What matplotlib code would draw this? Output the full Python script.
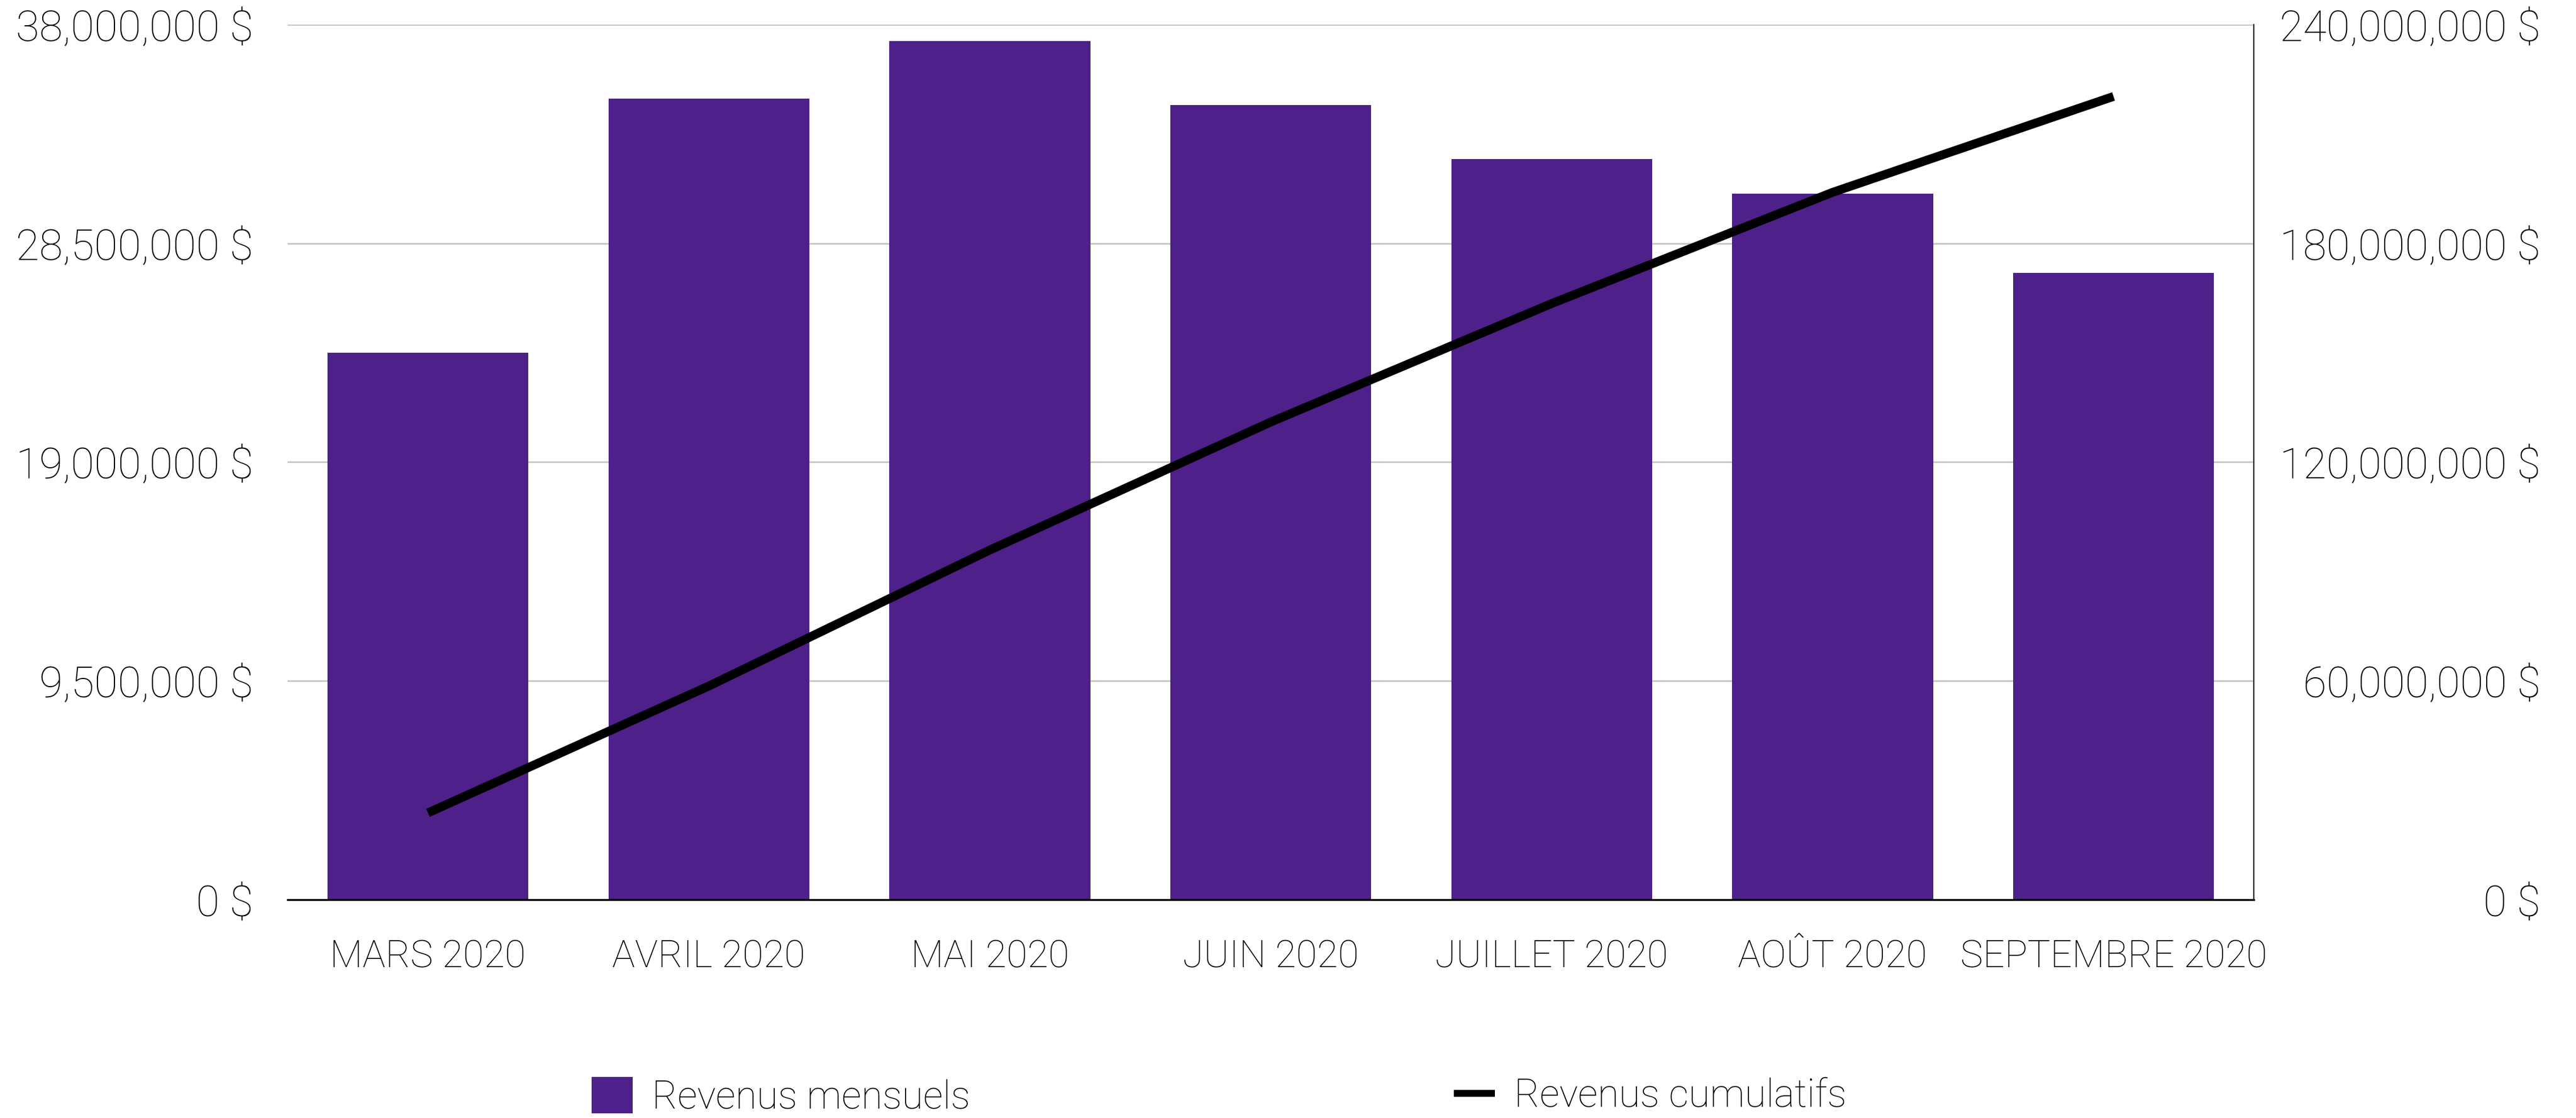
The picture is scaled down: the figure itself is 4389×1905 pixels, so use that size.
import matplotlib
matplotlib.use("Agg")
import matplotlib.pyplot as plt
from matplotlib.ticker import FuncFormatter
from matplotlib.lines import Line2D
from matplotlib.patches import Patch
import numpy as np

plt.rcParams['font.family'] = ['Roboto', 'DejaVu Sans']
plt.rcParams['font.weight'] = 'light'

categories = ["MARS 2020", "AVRIL 2020", "MAI 2020", "JUIN 2020",
              "JUILLET 2020", "AOÛT 2020", "SEPTEMBRE 2020"]
monthly = [23.74e6, 34.79e6, 37.29e6, 34.51e6, 32.15e6, 30.66e6, 27.23e6]
cumulative = [23.8e6, 58.6e6, 95.9e6, 131.0e6, 163.5e6, 194.0e6, 220.3e6]
left_ticks = [0, 9.5e6, 19e6, 28.5e6, 38e6]
right_ticks = [0, 60e6, 120e6, 180e6, 240e6]
legend_labels = ["Revenus mensuels", "Revenus cumulatifs"]

purple = "#4e208a"
fs = 17.5
fs_x = 15.6
fs_leg = 15.9

fig = plt.figure(figsize=(4389/300, 1905/300), dpi=300)
ax = fig.add_axes([175/1568, 1-548/681, (1372-175)/1568, (548-15)/681])
x = np.arange(len(categories))
ax.bar(x, monthly, width=0.715, color=purple, zorder=3)
ax.set_xlim(-0.5, len(categories)-0.5)
ax.set_ylim(0, 38e6)
ax.set_yticks(left_ticks)
fmt = FuncFormatter(lambda v, p: f"{int(round(v)):,} $")
ax.yaxis.set_major_formatter(fmt)
ax.set_xticks(x)
ax.set_xticklabels(categories)
ax.grid(axis='y', color='#c0c0c0', linewidth=0.6, zorder=0)
ax.set_axisbelow(True)
for s in ['left', 'top', 'right']:
    ax.spines[s].set_visible(False)
ax.spines['bottom'].set_color('black')
ax.spines['bottom'].set_linewidth(0.8)
ax.spines['bottom'].set_zorder(5)
ax.tick_params(axis='both', length=0)
ax.tick_params(axis='y', pad=14, labelsize=fs)
ax.tick_params(axis='x', pad=16, labelsize=fs_x)

ax2 = ax.twinx()
ax2.plot(x, cumulative, color='black', linewidth=3.6, solid_capstyle='butt', zorder=4)
ax2.set_ylim(0, 240e6)
ax2.set_yticks(right_ticks)
ax2.yaxis.set_major_formatter(fmt)
for s in ['left', 'top', 'bottom']:
    ax2.spines[s].set_visible(False)
ax2.spines['right'].set_color('#222222')
ax2.spines['right'].set_linewidth(0.5)
ax2.tick_params(axis='y', length=0, labelsize=fs, pad=117.2)
for lab in ax2.get_yticklabels():
    lab.set_horizontalalignment('right')

h1 = Patch(facecolor=purple, edgecolor='none')
h2 = Line2D([], [], color='black', linewidth=2.8, solid_capstyle='butt')
hl = 16.8 / fs_leg
fig.legend([h1], [legend_labels[0]], loc='center left',
           bbox_to_anchor=(360/1568, 1-668/681), frameon=False, fontsize=fs_leg,
           handlelength=hl, handleheight=hl, handletextpad=0.5,
           borderaxespad=0, borderpad=0)
fig.legend([h2], [legend_labels[1]], loc='center left',
           bbox_to_anchor=(885/1568, 1-668/681), frameon=False, fontsize=fs_leg,
           handlelength=hl, handletextpad=0.5, borderaxespad=0, borderpad=0)

fig.savefig("out.png", dpi=300, facecolor='white')
